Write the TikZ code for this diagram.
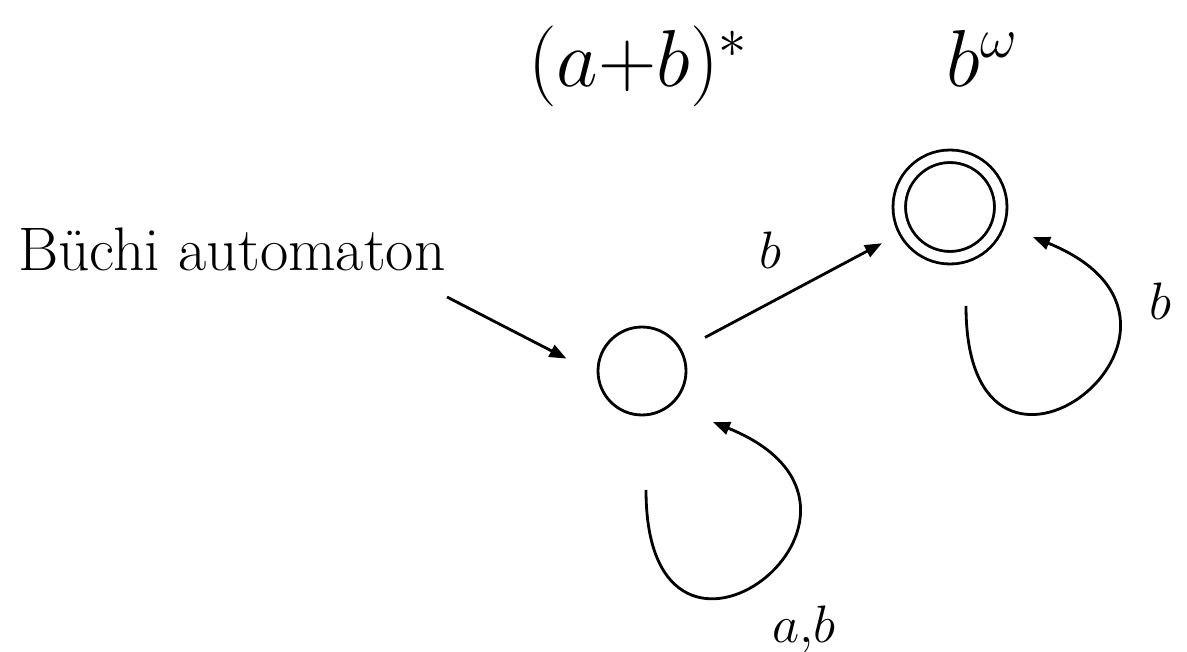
\RequirePackage{fix-cm}
\documentclass[tikz,border=0pt]{standalone}
\usepackage{tikz}
\usetikzlibrary{positioning, arrows.meta, calc}

\begin{document}
\begin{tikzpicture}[x=0.02cm, y=-0.02cm,
    state/.style={circle, draw, line width=1.6pt, minimum size=1.76cm, inner sep=0pt},
    accepting/.style={state, double, double distance=5.5pt, minimum size=2.03cm},
    arr/.style={-{Triangle[length=0.34cm, width=0.26cm]}, line width=1.6pt},
    lbl/.style={font=\fontsize{30}{36}\selectfont, inner sep=0pt},
    title/.style={anchor=base west, inner sep=0pt, font=\fontsize{46}{54}\selectfont}
  ]
  \useasboundingbox (0,0) rectangle (1187,652);

  \node[state] (q0) at (642,371) {};
  \node[accepting] (q1) at (950,207) {};
  \coordinate (init) at (447,297);

  \node[anchor=base west, inner sep=0pt, font=\fontsize{35}{42}\selectfont] (name) at (18,270) {B\"uchi automaton};
  \node[title] (re0) at (528,87) {$(a{+}b)^*$};
  \node[title] (re1) at (946,87) {$b^\omega$};

  \draw[arr, shorten >=0.68cm] (init) -- (q0.184);
  \draw[arr, shorten <=0.52cm, shorten >=0.5cm] (q0) -- node[lbl, pos=0.4, above=0.65cm] {$b$} (q1);
  % self loops
  \draw[arr] ([shift={(4,119)}]q0.center) .. controls +(0,240) and +(217,88) ..
        node[lbl, pos=0.5, below right=0.5cm and 0.2cm] {$a{,}b$} ([shift={(71,51)}]q0.center);
  \draw[arr] ([shift={(16,99)}]q1.center) .. controls +(0,240) and +(217,88) ..
        node[lbl, pos=0.8, right=0.78cm] {$b$} ([shift={(83,30)}]q1.center);
\end{tikzpicture}
\end{document}
